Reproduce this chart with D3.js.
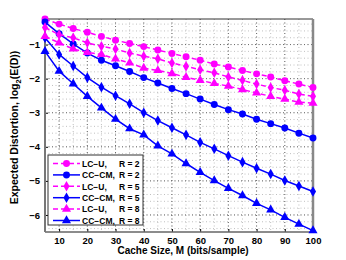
<!DOCTYPE html>
<meta charset="utf-8">
<style>
body { margin: 0; background: #fff; }
text { font-family: "Liberation Sans", Arial, sans-serif; font-weight: bold; }
</style>
<body>
<script src="https://cdn.jsdelivr.net/npm/d3@7"></script>
<script>
// cache sizes (bits/sample)
var cacheM = [5,10,15,20,25,30,35,40,45,50,55,60,65,70,75,80,85,90,95,100];

// log2(E(D))
var lcuR2  = [-0.25,-0.40,-0.53,-0.64,-0.76,-0.87,-0.97,-1.06,-1.16,-1.26,-1.36,-1.46,-1.57,-1.66,-1.76,-1.86,-1.95,-2.06,-2.16,-2.26];
var ccR2   = [-0.34,-0.68,-0.98,-1.25,-1.46,-1.62,-1.79,-1.97,-2.13,-2.29,-2.44,-2.60,-2.76,-2.91,-3.04,-3.19,-3.32,-3.45,-3.60,-3.74];
var lcuR5  = [-0.50,-0.71,-0.80,-0.95,-1.05,-1.13,-1.25,-1.34,-1.42,-1.54,-1.64,-1.74,-1.83,-1.95,-2.05,-2.16,-2.26,-2.34,-2.45,-2.52];
var ccR5   = [-0.80,-1.29,-1.63,-1.97,-2.25,-2.50,-2.74,-3.00,-3.23,-3.44,-3.65,-3.87,-4.06,-4.26,-4.45,-4.63,-4.80,-4.99,-5.15,-5.31];
var lcuR8  = [-0.76,-0.95,-1.13,-1.23,-1.29,-1.42,-1.54,-1.69,-1.76,-1.85,-1.96,-2.05,-2.14,-2.22,-2.32,-2.42,-2.52,-2.60,-2.69,-2.72];
var ccR8   = [-1.20,-1.78,-2.15,-2.52,-2.86,-3.19,-3.47,-3.65,-3.97,-4.21,-4.49,-4.75,-4.99,-5.22,-5.43,-5.66,-5.85,-6.07,-6.27,-6.46];

var xTicks = [10,20,30,40,50,60,70,80,90,100];
var yTicks = [-1,-2,-3,-4,-5,-6];

var series = [
  {name: "LC\u2212U,", r: "R = 2", vals: lcuR2, color: "#ff00ff", dash: "5,3", marker: "circle"},
  {name: "CC\u2212CM,", r: "R = 2", vals: ccR2, color: "#0000ff", dash: null, marker: "circle"},
  {name: "LC\u2212U,", r: "R = 5", vals: lcuR5, color: "#ff00ff", dash: "5,3", marker: "diamond"},
  {name: "CC\u2212CM,", r: "R = 5", vals: ccR5, color: "#0000ff", dash: null, marker: "diamond"},
  {name: "LC\u2212U,", r: "R = 8", vals: lcuR8, color: "#ff00ff", dash: "5,3", marker: "triangle"},
  {name: "CC\u2212CM,", r: "R = 8", vals: ccR8, color: "#0000ff", dash: null, marker: "triangle"}
];

var W = 346, H = 260;
var margin = {top: 19, right: 33, bottom: 28, left: 45};
var width = W - margin.left - margin.right,
    height = H - margin.top - margin.bottom;

var svg = d3.select("body").append("svg")
    .attr("width", W).attr("height", H);
var g = svg.append("g")
    .attr("transform", "translate(" + margin.left + "," + margin.top + ")");

var x = d3.scaleLinear().domain([5, 100]).range([0, width]);
var y = d3.scaleLinear().domain([-6.5, -0.25]).range([height, 0]);

// grid (minor + major, dotted)
var xMinor = d3.range(10, 100, 5);
var yMinor = d3.range(-6.4, -0.25, 0.2);
g.append("g").selectAll("line").data(xMinor).enter().append("line")
  .attr("x1", d => x(d)).attr("x2", d => x(d)).attr("y1", 0).attr("y2", height)
  .attr("stroke", "#b0b0b0").attr("stroke-width", 0.8).attr("stroke-dasharray", "1,2.5");
g.append("g").selectAll("line").data(yMinor).enter().append("line")
  .attr("y1", d => y(d)).attr("y2", d => y(d)).attr("x1", 0).attr("x2", width)
  .attr("stroke", "#b0b0b0").attr("stroke-width", 0.8).attr("stroke-dasharray", "1,2.5");
g.append("g").selectAll("line").data(xTicks).enter().append("line")
  .attr("x1", d => x(d)).attr("x2", d => x(d)).attr("y1", 0).attr("y2", height)
  .attr("stroke", "#555").attr("stroke-width", 0.8).attr("stroke-dasharray", "1,2.5");
g.append("g").selectAll("line").data(yTicks).enter().append("line")
  .attr("y1", d => y(d)).attr("y2", d => y(d)).attr("x1", 0).attr("x2", width)
  .attr("stroke", "#555").attr("stroke-width", 0.8).attr("stroke-dasharray", "1,2.5");

// axes
var xAxis = g.append("g").attr("transform", "translate(0," + height + ")")
  .call(d3.axisBottom(x).tickValues(xTicks).tickSizeInner(-3).tickSizeOuter(0).tickPadding(5));
var yAxis = g.append("g")
  .call(d3.axisLeft(y).tickValues(yTicks).tickSizeInner(-3).tickSizeOuter(0).tickPadding(5)
    .tickFormat(d => "\u2212" + Math.abs(d)));
[xAxis, yAxis].forEach(function(a) {
  a.select(".domain").remove();
  a.selectAll("text").attr("font-size", 9.5).attr("font-family", "Liberation Sans, Arial, sans-serif")
    .attr("font-weight", "bold").attr("fill", "#000");
  a.selectAll(".tick line").attr("stroke", "#000");
});
// box
g.append("line").attr("x1", 0).attr("x2", width).attr("y1", 0).attr("y2", 0).attr("stroke", "#333").attr("stroke-width", 1);
g.append("line").attr("x1", 0).attr("x2", width).attr("y1", height).attr("y2", height).attr("stroke", "#666").attr("stroke-width", 1.5);
g.append("line").attr("x1", 0).attr("x2", 0).attr("y1", 0).attr("y2", height).attr("stroke", "#777").attr("stroke-width", 2);
g.append("line").attr("x1", width).attr("x2", width).attr("y1", 0).attr("y2", height).attr("stroke", "#888").attr("stroke-width", 2.5);

var symbols = {circle: d3.symbolCircle, diamond: d3.symbolDiamond, triangle: d3.symbolTriangle};
var sizes = {circle: 38, diamond: 32, triangle: 36};

var line = d3.line().x((d, i) => x(cacheM[i])).y(d => y(d));

series.forEach(function(s) {
  g.append("path").datum(s.vals)
    .attr("d", line).attr("fill", "none")
    .attr("stroke", s.color).attr("stroke-width", 1.5)
    .attr("stroke-dasharray", s.dash);
  g.append("g").selectAll("path").data(s.vals).enter().append("path")
    .attr("transform", (d, i) => "translate(" + x(cacheM[i]) + "," + y(d) + ")")
    .attr("d", d3.symbol().type(symbols[s.marker]).size(sizes[s.marker]))
    .attr("fill", s.color);
});

// legend
var lg = g.append("g").attr("transform", "translate(3,136)");
lg.append("rect").attr("x", 0).attr("y", 0).attr("width", 95).attr("height", 70)
  .attr("fill", "#fff").attr("stroke", "#333").attr("stroke-width", 1);
series.forEach(function(s, i) {
  var ly = 8.5 + i * 11.4;
  lg.append("line").attr("x1", 5).attr("x2", 32).attr("y1", ly).attr("y2", ly)
    .attr("stroke", s.color).attr("stroke-width", 1.5).attr("stroke-dasharray", s.dash);
  lg.append("path").attr("transform", "translate(18.5," + ly + ")")
    .attr("d", d3.symbol().type(symbols[s.marker]).size(sizes[s.marker]))
    .attr("fill", s.color);
  lg.append("text").attr("x", 34).attr("y", ly + 3.2).attr("font-size", 8.5).text(s.name);
  lg.append("text").attr("x", 71).attr("y", ly + 3.2).attr("font-size", 8.5).text(s.r);
});

// axis labels
svg.append("text").attr("x", margin.left + width / 2 + 4).attr("y", 254)
  .attr("text-anchor", "middle").attr("font-size", 10).text("Cache Size, M (bits/sample)");
var yl = svg.append("text").attr("transform", "translate(18," + (margin.top + height / 2 + 2) + ") rotate(-90)")
  .attr("text-anchor", "middle").attr("font-size", 10.5);
yl.append("tspan").text("Expected Distortion, log");
yl.append("tspan").attr("font-size", 7.5).attr("dy", 3).text("2");
yl.append("tspan").attr("dy", -3).text("(E(D))");
</script>
</body>
